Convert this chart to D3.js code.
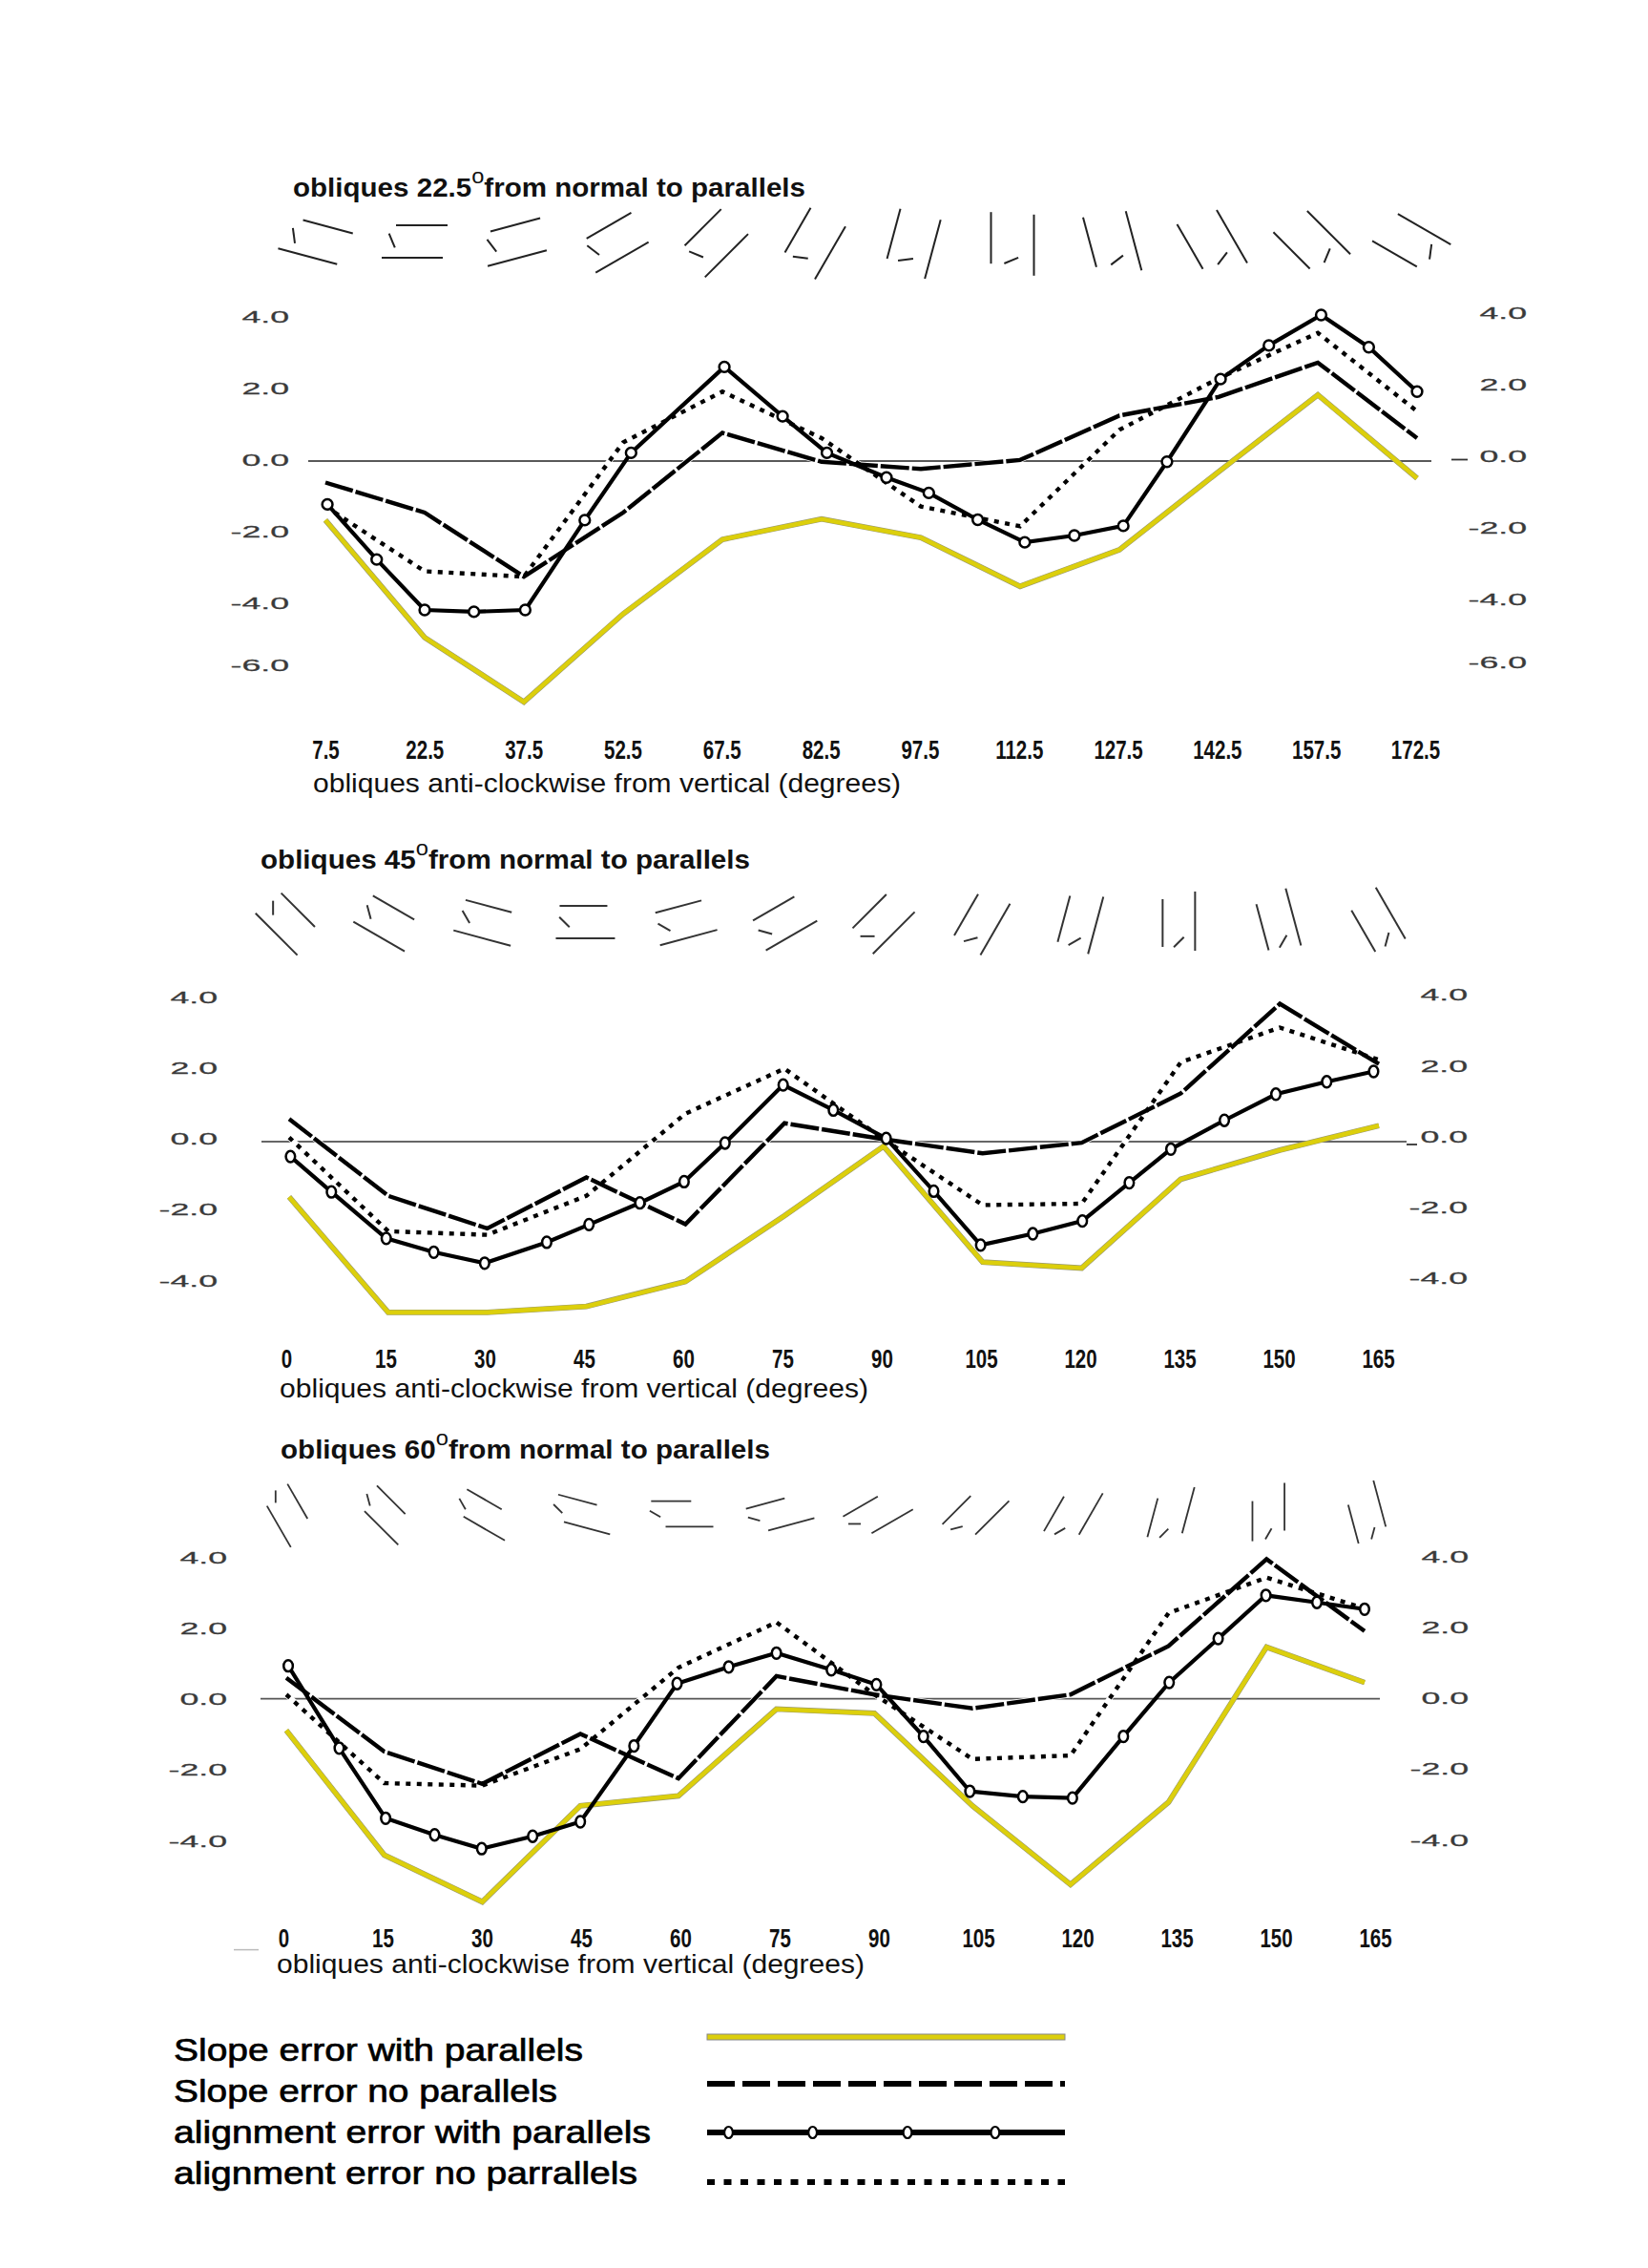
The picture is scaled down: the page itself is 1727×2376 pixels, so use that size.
<!DOCTYPE html>
<html><head><meta charset="utf-8">
<script src="https://cdn.jsdelivr.net/npm/d3@7/dist/d3.min.js"></script>
<style>html,body{margin:0;padding:0;background:#fff}svg{display:block}text{font-family:"Liberation Sans",Arial,sans-serif}</style>
</head><body><svg id="c" width="1727" height="2376"></svg>
<script>
// ---- shared
const yTicks = [4, 2, 0, -2, -4];
const yTicksFirst = [4, 2, 0, -2, -4, -6];
const legendLabels = ["Slope error with parallels","Slope error no parallels","alignment error with parallels","alignment error no parrallels"];
const axisLabel = "obliques anti-clockwise from vertical (degrees)";

// ---- panel 1 : obliques 22.5 from normal
const angles1 = [7.5,22.5,37.5,52.5,67.5,82.5,97.5,112.5,127.5,142.5,157.5,172.5];
const slopeWith1 = [-1.65,-4.93,-6.73,-4.27,-2.19,-1.62,-2.14,-3.50,-2.48,-0.3,1.85,-0.48];
const slopeNo1 = [-0.6,-1.44,-3.23,-1.44,0.79,-0.02,-0.22,0.03,1.27,1.79,2.75,0.64];
const alignNo1 = [-1.27,-3.08,-3.23,0.52,1.94,0.64,-1.27,-1.82,0.87,2.31,3.58,1.39];
const alignWithAngle1 = [7.8,15.25,22.5,29.95,37.7,46.7,53.7,67.8,76.6,83.3,92.3,98.7,106.1,113.2,120.7,128.1,134.7,142.8,150.1,158,165.2,172.5];
const alignWith1 = [-1.21,-2.75,-4.16,-4.21,-4.16,-1.65,0.23,2.63,1.25,0.23,-0.46,-0.89,-1.64,-2.27,-2.08,-1.81,-0.02,2.29,3.23,4.08,3.18,1.94];

// ---- panel 2 : obliques 45 from normal
const angles2 = [0,15,30,45,60,75,90,105,120,135,150,165];
const slopeWith2 = [-1.56,-4.82,-4.82,-4.65,-3.95,-2.09,-0.13,-3.4,-3.57,-1.06,-0.24,0.45];
const slopeNo2 = [0.64,-1.53,-2.45,-1.01,-2.33,0.52,0.07,-0.33,-0.03,1.36,3.89,2.19];
const alignNo2 = [0.12,-2.53,-2.63,-1.53,0.79,2.06,0.07,-1.79,-1.75,2.24,3.22,2.31];
const alignWithAngle2 = [0.2,6.4,14.7,21.9,29.6,39,45.4,53.1,59.8,66,74.8,82.4,90.4,97.6,104.7,112.6,120.1,127.2,133.5,141.6,149.4,157.1,164.2];
const alignWith2 = [-0.42,-1.42,-2.73,-3.12,-3.43,-2.84,-2.34,-1.73,-1.13,-0.04,1.6,0.89,0.09,-1.4,-2.92,-2.6,-2.24,-1.16,-0.21,0.6,1.34,1.69,1.98];

// ---- panel 3 : obliques 60 from normal
const angles3 = [0,15,30,45,60,75,90,105,120,135,150,165];
const slopeWith3 = [-0.89,-4.41,-5.73,-3.02,-2.74,-0.29,-0.41,-3.02,-5.24,-2.92,1.46,0.46];
const slopeNo3 = [0.59,-1.49,-2.40,-0.99,-2.25,0.64,0.12,-0.27,0.12,1.49,3.94,1.91];
const alignNo3 = [0.12,-2.38,-2.45,-1.42,0.88,2.16,0.12,-1.70,-1.6,2.42,3.42,2.55];
const alignWithAngle3 = [0.3,8.1,15.2,22.7,29.9,37.7,45,53.2,59.8,67.7,75,83.4,90.3,97.5,104.6,112.7,120.3,128.1,135.1,142.6,149.9,157.7,165];
const alignWith3 = [0.93,-1.39,-3.37,-3.84,-4.23,-3.88,-3.47,-1.33,0.43,0.9,1.29,0.82,0.4,-1.06,-2.61,-2.76,-2.8,-1.06,0.46,1.7,2.92,2.72,2.53];

const YELLOW = "#dccf0c";
const svg = d3.select("#c");
svg.append("rect").attr("width",1727).attr("height",2376).attr("fill","#fff");

const panels = [
 {title:"obliques 22.5", relAngle:22.5, angles:angles1, slopeWith:slopeWith1, slopeNo:slopeNo1, alignNo:alignNo1, alignAngle:alignWithAngle1, alignWith:alignWith1,
  xDom:[7.5,172.5], xRange:[341,1485], labelRange:[341,1483], zero:483, unit:37.5, ticks:yTicksFirst,
  zeroX:[323,1500], zeroCol:"#222", zeroW:1.5,
  titleX:307, titleLen:537, titleY:206,
  xLabelY:785, axisX:328, axisLen:616, axisY:830,
  leftEdge:303, rightEdge:1600, leftDy:-1, rightDy:-4.5, zeroDash:[-79,-62,-1.5],
  icon:{dx:-8, y:253, L1:[-4,18,64], L2:[4,-18,54], s:[-21,-1,16], sx:1.25, sy:0.95, col:"#222", w:2},
  ell:[5.4,5.4]},
 {title:"obliques 45", relAngle:45, angles:angles2, slopeWith:slopeWith2, slopeNo:slopeNo2, alignNo:alignNo2, alignAngle:alignWithAngle2, alignWith:alignWith2,
  xDom:[0,165], xRange:[303,1445], labelRange:[300,1444], zero:1196, unit:37.12, ticks:yTicks,
  zeroX:[274,1474], zeroCol:"#666", zeroW:2,
  titleX:273, titleLen:513, titleY:910,
  xLabelY:1423, axisX:293, axisLen:617, axisY:1464,
  leftEdge:228, rightEdge:1538, leftDy:-2.7, rightDy:-5, zeroDash:[-64,-53,3],
  icon:{dx:-2, y:966, L1:[1,17,62], L2:[-1,-17,50], s:[-21,0,15], sx:1, sy:1, col:"#333", w:2},
  ell:[4.8,5.9]},
 {title:"obliques 60", relAngle:60, angles:angles3, slopeWith:slopeWith3, slopeNo:slopeNo3, alignNo:alignNo3, alignAngle:alignWithAngle3, alignWith:alignWith3,
  xDom:[0,165], xRange:[300,1430], labelRange:[297,1441], zero:1779.7, unit:37.12, ticks:yTicks,
  zeroX:[273,1446], zeroCol:"#555", zeroW:1.8,
  titleX:294, titleLen:513, titleY:1528,
  xLabelY:2030, axisX:290, axisLen:616, axisY:2067,
  leftEdge:238, rightEdge:1539, leftDy:0.5, rightDy:-0.5, zeroDash:null,
  icon:{dx:2, y:1586, L1:[8,14,50], L2:[-8,-14,42], s:[-22,0,13], sx:1.2, sy:0.95, col:"#333", w:1.8},
  ell:[4.8,5.9]}
];

function drawIcons(g, p, x){
  const ic = p.icon, rad = Math.PI/180;
  const seg = (cx,cy,len,ang) => { // ang: anti-clockwise from vertical, degrees
    const ux = -Math.sin(ang*rad), uy = -Math.cos(ang*rad);
    g.append("line").attr("x1",cx-ux*len/2).attr("y1",cy-uy*len/2).attr("x2",cx+ux*len/2).attr("y2",cy+uy*len/2)
     .attr("stroke",ic.col).attr("stroke-width",ic.w);
  };
  p.angles.forEach(d=>{
    const rho = (d - p.relAngle)*rad;
    const px = v => {
      const X = v[0]*Math.cos(rho)+v[1]*Math.sin(rho);
      const Y = -v[0]*Math.sin(rho)+v[1]*Math.cos(rho);
      return [x(d)+ic.dx+X*ic.sx, ic.y+Y*ic.sy];
    };
    const a = px(ic.L1), b = px(ic.L2), c = px(ic.s);
    seg(a[0],a[1],ic.L1[2],d+90-p.relAngle);
    seg(b[0],b[1],ic.L2[2],d+90-p.relAngle);
    seg(c[0],c[1],ic.s[2],d);
  });
}

const tickText = d => d.toFixed(1);
function yAxisText(sel, dy){
  sel.select(".domain").remove();
  sel.selectAll("text")
    .attr("x",0).attr("text-anchor","end").attr("fill","#3a3a3a")
    .attr("font-size",17).attr("stroke","#3a3a3a").attr("stroke-width",0.25)
    .attr("transform",`translate(0,${dy}) scale(2.1,1)`);
}

panels.forEach(p=>{
  const x = d3.scaleLinear().domain(p.xDom).range(p.xRange);
  const xLab = d3.scaleLinear().domain(p.xDom).range(p.labelRange);
  const y = d3.scaleLinear().domain([0,1]).range([p.zero,p.zero-p.unit]);
  const g = svg.append("g");
  const ln = d3.line().x(d=>x(d[0])).y(d=>y(d[1]));
  const zip = (a,b)=>a.map((v,i)=>[v,b[i]]);

  // title
  const t = g.append("text").attr("x",p.titleX).attr("y",p.titleY).attr("font-size",27.5).attr("font-weight","bold").attr("fill","#111");
  t.append("tspan").text(p.title);
  t.append("tspan").attr("font-size",22).attr("font-weight","normal").attr("dy",-14).text("o");
  t.append("tspan").attr("dy",14).text("from normal to parallels");
  t.attr("textLength",p.titleLen).attr("lengthAdjust","spacingAndGlyphs");

  drawIcons(g.append("g"),p,x);

  // y axes (both sides)
  const axL = g.append("g").attr("transform",`translate(${p.leftEdge},0)`)
    .call(d3.axisLeft(y).tickValues(p.ticks).tickFormat(tickText).tickSize(0).tickPadding(0));
  yAxisText(axL,p.leftDy);
  const axR = g.append("g").attr("transform",`translate(${p.rightEdge},0)`)
    .call(d3.axisLeft(y).tickValues(p.ticks).tickFormat(tickText).tickSize(0).tickPadding(0));
  yAxisText(axR,p.rightDy);
  if(p===panels[0]){
    axL.selectAll("text").filter(d=>d===-6).attr("transform","translate(0,-11) scale(2.1,1)");
    axR.selectAll("text").filter(d=>d===-6).attr("transform","translate(0,-14) scale(2.1,1)");
  }
  if(p.zeroDash){
    g.append("line").attr("x1",p.rightEdge+p.zeroDash[0]).attr("x2",p.rightEdge+p.zeroDash[1])
      .attr("y1",y(0)+p.zeroDash[2]).attr("y2",y(0)+p.zeroDash[2]).attr("stroke","#333").attr("stroke-width",1.8);
  }

  // x axis tick labels
  const axB = g.append("g").attr("transform",`translate(0,${p.xLabelY-9.5})`)
    .call(d3.axisBottom(xLab).tickValues(p.angles).tickFormat(d=>String(d)).tickSize(0).tickPadding(0));
  axB.select(".domain").remove();
  axB.selectAll("text").attr("font-size",27).attr("font-weight","bold").attr("fill","#111")
    .attr("transform","scale(0.76,1)");

  g.append("text").attr("x",p.axisX).attr("y",p.axisY).attr("font-size",28.5).attr("fill","#111")
    .attr("textLength",p.axisLen).attr("lengthAdjust","spacingAndGlyphs").text(axisLabel);

  // zero line
  g.append("line").attr("x1",p.zeroX[0]).attr("x2",p.zeroX[1]).attr("y1",y(0)).attr("y2",y(0))
    .attr("stroke",p.zeroCol).attr("stroke-width",p.zeroW);

  const path = (data,col,w,dash)=>{
    const e = g.append("path").datum(data).attr("d",ln).attr("fill","none").attr("stroke",col).attr("stroke-width",w);
    if(dash) e.attr("stroke-dasharray",dash);
    return e;
  };
  const slopeNo = zip(p.angles,p.slopeNo), alignNo = zip(p.angles,p.alignNo), slopeW = zip(p.angles,p.slopeWith), alignW = zip(p.alignAngle,p.alignWith);
  path(alignNo,"#fff",6);
  path(slopeNo,"#fff",6);
  path(slopeW,"#9a9a70",5.8);
  path(slopeW,YELLOW,4.6);
  path(alignNo,"#000",4.4,"5,6.5");
  path(slopeNo,"#000",4.4,"30,3");
  path(alignW,"#000",4.2);
  g.selectAll("ellipse.m").data(alignW).join("ellipse").attr("class","m")
    .attr("cx",d=>x(d[0])).attr("cy",d=>y(d[1])).attr("rx",p.ell[0]).attr("ry",p.ell[1])
    .attr("fill","#fff").attr("stroke","#000").attr("stroke-width",2.5);
});

// stray mark in the scan
svg.append("line").attr("x1",245).attr("x2",271).attr("y1",2042.6).attr("y2",2042.6).attr("stroke","#bbb").attr("stroke-width",1.5);

// legend
const legendRows = [2159,2202,2245,2288];
const legendLens = [429,402,500,486];
const legendX = d3.scaleLinear().domain([0,1]).range([741,1116]);
const legendMarkers = [0.06,0.295,0.56,0.805];
const lg = svg.append("g");
legendLabels.forEach((s,i)=>{
  lg.append("text").attr("x",182).attr("y",legendRows[i]).attr("font-size",34).attr("fill","#000")
    .attr("stroke","#000").attr("stroke-width",0.7)
    .attr("textLength",legendLens[i]).attr("lengthAdjust","spacingAndGlyphs").text(s);
});
const lx0 = legendX(0), lx1 = legendX(1);
lg.append("rect").attr("x",lx0).attr("y",2131).attr("width",lx1-lx0).attr("height",6).attr("fill",YELLOW).attr("stroke","#888").attr("stroke-width",1);
lg.append("line").attr("x1",lx0).attr("x2",lx1).attr("y1",2183).attr("y2",2183).attr("stroke","#000").attr("stroke-width",6).attr("stroke-dasharray","29,8");
lg.append("line").attr("x1",lx0).attr("x2",lx1).attr("y1",2234).attr("y2",2234).attr("stroke","#000").attr("stroke-width",6);
lg.selectAll("ellipse").data(legendMarkers).join("ellipse")
  .attr("cx",d=>legendX(d)).attr("cy",2234).attr("rx",4.4).attr("ry",6).attr("fill","#fff").attr("stroke","#000").attr("stroke-width",2.2);
lg.append("line").attr("x1",lx0).attr("x2",lx1).attr("y1",2286).attr("y2",2286).attr("stroke","#000").attr("stroke-width",6).attr("stroke-dasharray","8,9.5");
</script></body></html>
